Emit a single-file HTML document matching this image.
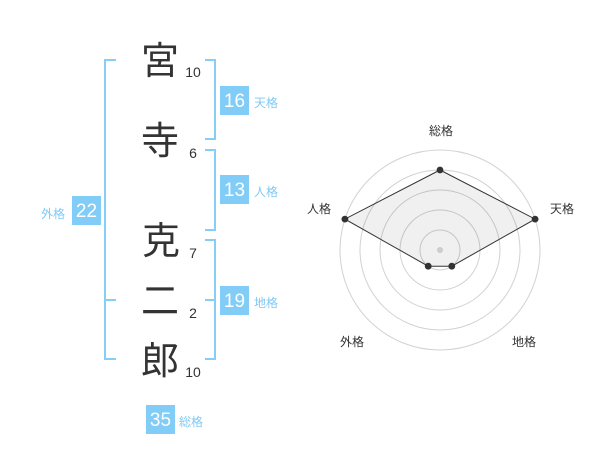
<!DOCTYPE html>
<html>
<head>
<meta charset="utf-8">
<style>
html,body{margin:0;padding:0;background:#fff;}
body{width:600px;height:470px;overflow:hidden;}
svg{display:block;}
.kj{font-family:"Liberation Sans","Noto Sans CJK JP",sans-serif;font-size:38px;fill:#333;}
.num{font-family:"Liberation Sans",sans-serif;font-size:14px;fill:#333;}
.bx{font-family:"Liberation Sans",sans-serif;font-size:19px;fill:#fff;}
.lb{font-family:"Liberation Sans","Noto Sans CJK JP",sans-serif;font-size:12px;fill:#7fc9f5;}
.rl{font-family:"Liberation Sans","Noto Sans CJK JP",sans-serif;font-size:12px;fill:#333;}
</style>
</head>
<body>
<svg width="600" height="470" viewBox="0 0 600 470" xmlns="http://www.w3.org/2000/svg">
  <!-- brackets -->
  <g stroke="#86cdf8" stroke-width="2" fill="none">
    <!-- outer left (外格) -->
    <polyline points="116,60 105,60 105,359 116,359"/>
    <line x1="105" y1="300" x2="116" y2="300"/>
    <!-- 天格 -->
    <polyline points="205,60 215,60 215,139 205,139"/>
    <!-- 人格 -->
    <polyline points="205,150 215,150 215,230 205,230"/>
    <!-- 地格 -->
    <polyline points="205,240 215,240 215,359 205,359"/>
    <line x1="205" y1="300" x2="215" y2="300"/>
  </g>

  <!-- kanji -->
  <text class="kj" x="160" y="74" text-anchor="middle">宮</text>
  <text class="kj" x="160" y="154" text-anchor="middle">寺</text>
  <text class="kj" x="161" y="254" text-anchor="middle">克</text>
  <text class="kj" x="160" y="314" text-anchor="middle">二</text>
  <text class="kj" x="160" y="374" text-anchor="middle">郎</text>

  <!-- stroke counts -->
  <text class="num" x="193" y="77" text-anchor="middle">10</text>
  <text class="num" x="193" y="158" text-anchor="middle">6</text>
  <text class="num" x="193" y="258" text-anchor="middle">7</text>
  <text class="num" x="193" y="318" text-anchor="middle">2</text>
  <text class="num" x="193" y="377" text-anchor="middle">10</text>

  <!-- boxes -->
  <g fill="#82ccf8">
    <rect x="220" y="86" width="29" height="29"/>
    <rect x="220" y="175" width="29" height="29"/>
    <rect x="220" y="286" width="29" height="29"/>
    <rect x="72" y="196" width="29" height="29"/>
    <rect x="146" y="405" width="29" height="29"/>
  </g>
  <text class="bx" x="234.5" y="107" text-anchor="middle">16</text>
  <text class="bx" x="234.5" y="196" text-anchor="middle">13</text>
  <text class="bx" x="234.5" y="307" text-anchor="middle">19</text>
  <text class="bx" x="86.5" y="217" text-anchor="middle">22</text>
  <text class="bx" x="160.5" y="426" text-anchor="middle">35</text>

  <!-- labels -->
  <text class="lb" x="254" y="107">天格</text>
  <text class="lb" x="254" y="196">人格</text>
  <text class="lb" x="254" y="307">地格</text>
  <text class="lb" x="65" y="218" text-anchor="end">外格</text>
  <text class="lb" x="179" y="426">総格</text>

  <!-- radar -->
  <g fill="none" stroke="#d2d2d2" stroke-width="1">
    <circle cx="440" cy="250" r="20"/>
    <circle cx="440" cy="250" r="40"/>
    <circle cx="440" cy="250" r="60"/>
    <circle cx="440" cy="250" r="80"/>
    <circle cx="440" cy="250" r="100"/>
  </g>
  <polygon points="440,170 535.1,219.1 451.8,266.2 428.2,266.2 344.9,219.1" fill="rgba(0,0,0,0.06)" stroke="#333" stroke-width="1"/>
  <circle cx="440" cy="250" r="3" fill="#cccccc"/>
  <g fill="#333">
    <circle cx="440" cy="170" r="3.4"/>
    <circle cx="535.1" cy="219.1" r="3.4"/>
    <circle cx="451.8" cy="266.2" r="3.4"/>
    <circle cx="428.2" cy="266.2" r="3.4"/>
    <circle cx="344.9" cy="219.1" r="3.4"/>
  </g>
  <text class="rl" x="441" y="135" text-anchor="middle">総格</text>
  <text class="rl" x="562" y="213" text-anchor="middle">天格</text>
  <text class="rl" x="319" y="213" text-anchor="middle">人格</text>
  <text class="rl" x="352" y="346" text-anchor="middle">外格</text>
  <text class="rl" x="524" y="346" text-anchor="middle">地格</text>
</svg>
</body>
</html>
